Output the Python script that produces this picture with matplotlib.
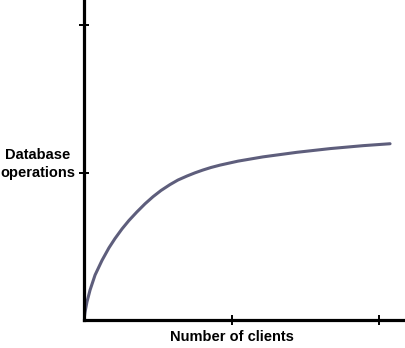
import matplotlib.pyplot as plt

# curve (x: clients, y: operations)
clients = [0, 0.007, 0.020, 0.041, 0.075, 0.122, 0.169, 0.210, 0.258, 0.305, 0.359, 0.414,
           0.468, 0.522, 0.583, 0.637, 0.698, 0.753, 0.807, 0.861, 0.922, 1.044, 1.214,
           1.444, 1.668, 1.892, 2.075]
operations = [0, 0.054, 0.122, 0.203, 0.305, 0.404, 0.489, 0.552, 0.618, 0.675, 0.733, 0.788,
              0.836, 0.878, 0.918, 0.949, 0.976, 0.998, 1.017, 1.034, 1.050, 1.077, 1.106,
              1.137, 1.162, 1.182, 1.195]
tick_pos = [1, 2]

fig = plt.figure(figsize=(4.06, 3.48), dpi=100)
ax = fig.add_axes([84 / 406, 28 / 348, 322 / 406, 320 / 348])

ax.plot(clients, operations, color='#5e5e7c', lw=2.2, solid_capstyle='round',
        solid_joinstyle='round')

ax.set_xlim(0, 322 / 147.5)
ax.set_ylim(0, 320 / 147.5)
for s in ['top', 'right']:
    ax.spines[s].set_visible(False)
for s in ['left', 'bottom']:
    ax.spines[s].set_linewidth(2.3)
    ax.spines[s].set_color('black')

ax.set_xticks(tick_pos)
ax.set_yticks(tick_pos)
ax.set_xticklabels([])
ax.set_yticklabels([])
ax.tick_params(direction='inout', length=7, width=1.4, color='black')

fig.text(232 / 406, 1 - 337 / 348, 'Number of clients', ha='center', va='center',
         fontsize=10.5, fontweight='bold', family='Liberation Sans')
fig.text(38 / 406, 1 - 164 / 348, 'Database\noperations', ha='center', va='center',
         fontsize=10.5, fontweight='bold', family='Liberation Sans', linespacing=1.3)

fig.savefig('out.png', dpi=100)
